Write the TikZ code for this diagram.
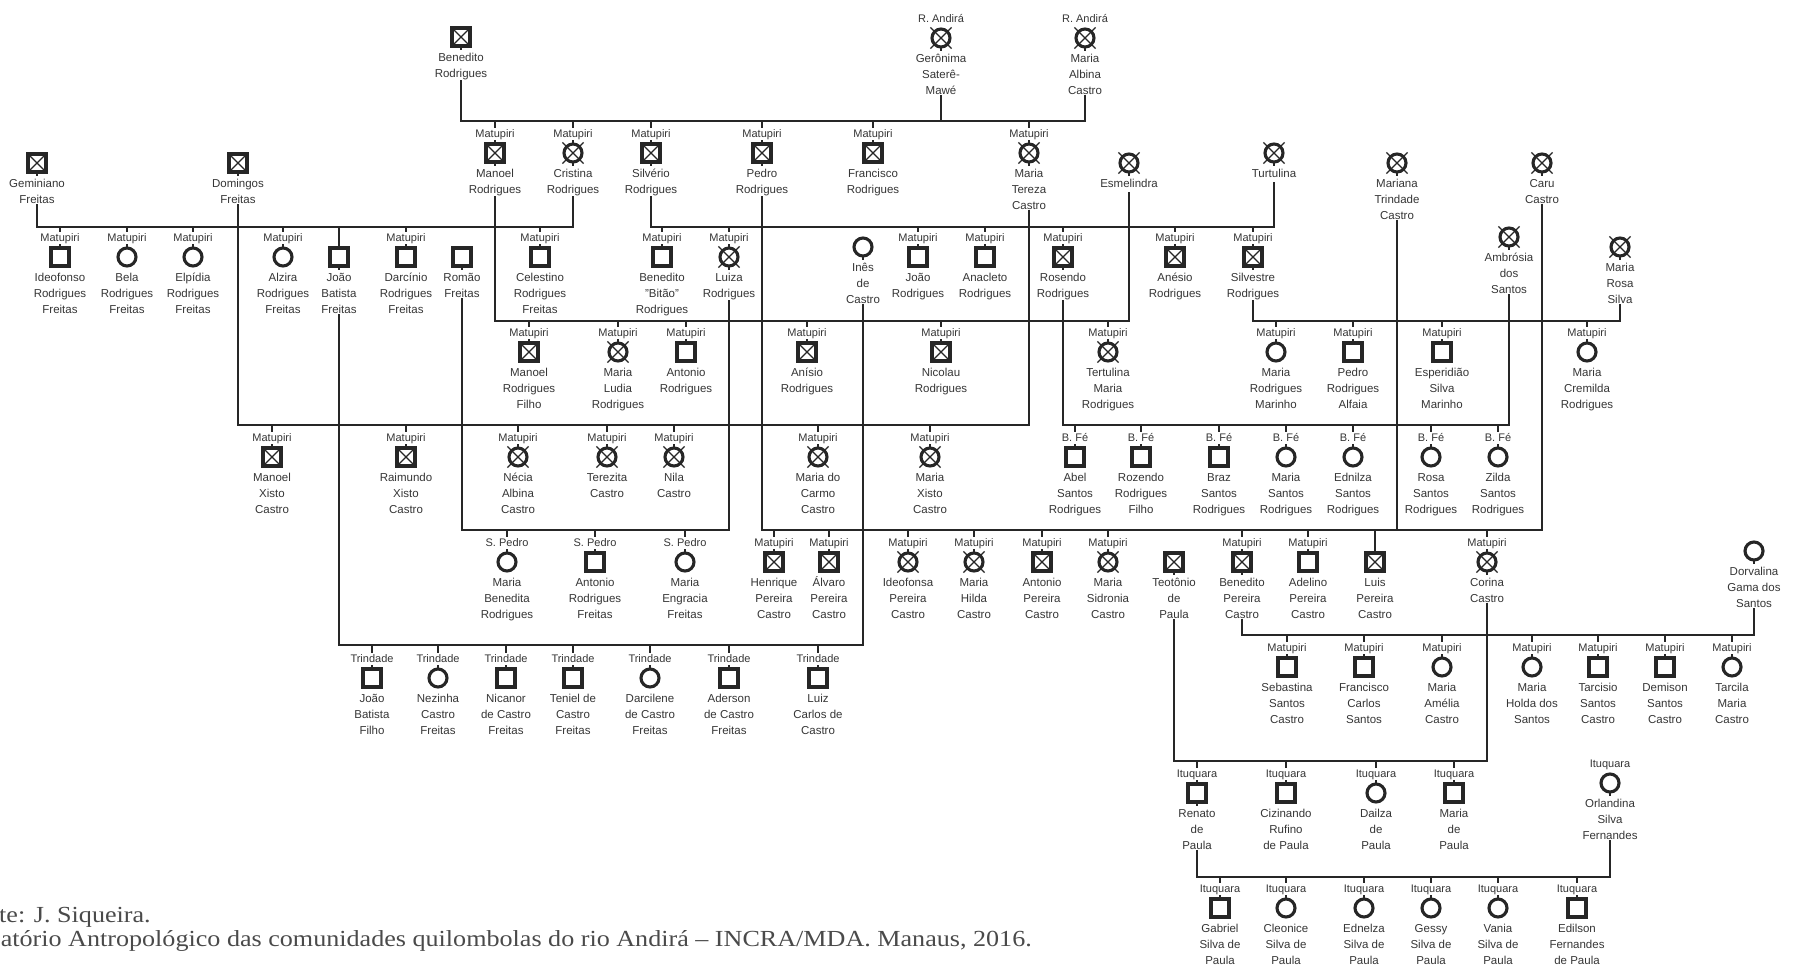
\documentclass[tikz,border=0pt]{standalone}
\usepackage{fontspec}
\setmainfont{Liberation Sans}
\newfontfamily\footfont[FakeStretch=1.135]{Liberation Serif}
\usetikzlibrary{shapes.misc}
\definecolor{ink}{HTML}{262626}
\definecolor{txt}{HTML}{363636}
\definecolor{ftc}{HTML}{4A4A4A}
\pgfdeclarelayer{bg}
\pgfsetlayers{bg,main}
\tikzset{
  sym/.style={draw=ink, fill=white, line width=3.1pt, minimum size=18pt, inner sep=0pt, outer sep=0pt},
  sq/.style={sym, rectangle},
  ci/.style={sym, circle},
  sqx/.style={sq, path picture={\draw[ink, line width=1.2pt] (path picture bounding box.south west) -- (path picture bounding box.north east) (path picture bounding box.north west) -- (path picture bounding box.south east);}},
  xo/.style={cross out, draw=ink, line width=1.2pt, minimum size=20pt, inner sep=0pt},
  cix/.style={ci, append after command={node[xo] at (\tikzlastnode.center) {}}},
  nm/.style={font=\fontsize{11.5}{16}\selectfont, text=txt, align=center, inner sep=0pt, anchor=north, fill=white},
  lb/.style={font=\fontsize{11}{13}\selectfont, text=txt, inner xsep=1pt, inner ysep=1pt, text height=8.5pt, text depth=1.5pt, anchor=base, fill=white},
  rel/.style={draw=ink, line width=2.8pt},
  ch/.style={draw=ink, line width=2.2pt},
  foot/.style={font=\footfont\fontsize{23}{24}\selectfont, text=ftc, inner sep=0pt},
}
\newcommand\pers[6]{%
  \node[#4] (#1) at (#2,#3) {};
  \node[nm] (#1t) at (#2,#3+13) {\strut #6};
  \if\relax\detokenize{#5}\relax\else\node[lb] (#1l) at (#2,#3-16) {#5};\fi
}
\begin{document}
\begin{tikzpicture}[x=1pt,y=-1pt]
\useasboundingbox (0,0) rectangle (1798,969);
% row 0
\pers{benR}{461}{37}{sqx}{}{Benedito\\Rodrigues}
\pers{geron}{941}{38}{cix}{R. Andirá}{Gerônima\\Saterê-\\Mawé}
\pers{malb}{1085}{38}{cix}{R. Andirá}{Maria\\Albina\\Castro}
% row 1
\pers{manR}{495}{153}{sqx}{Matupiri}{Manoel\\Rodrigues}
\pers{criR}{573}{153}{cix}{Matupiri}{Cristina\\Rodrigues}
\pers{silR}{651}{153}{sqx}{Matupiri}{Silvério\\Rodrigues}
\pers{pedR}{762}{153}{sqx}{Matupiri}{Pedro\\Rodrigues}
\pers{fraR}{873}{153}{sqx}{Matupiri}{Francisco\\Rodrigues}
\pers{mtc}{1029}{153}{cix}{Matupiri}{Maria\\Tereza\\Castro}
\pers{turt}{1274}{153}{cix}{}{Turtulina}
\pers{gemF}{37}{163}{sqx}{}{Geminiano\\Freitas}
\pers{domF}{238}{163}{sqx}{}{Domingos\\Freitas}
\pers{esme}{1129}{163}{cix}{}{Esmelindra}
\pers{mari}{1397}{163}{cix}{}{Mariana\\Trindade\\Castro}
\pers{caru}{1542}{163}{cix}{}{Caru\\Castro}
\pers{ambr}{1509}{237}{cix}{}{Ambrósia\\dos\\Santos}
\pers{mrs}{1620}{247}{cix}{}{Maria\\Rosa\\Silva}
% row 2
\pers{ideo}{60}{257}{sq}{Matupiri}{Ideofonso\\Rodrigues\\Freitas}
\pers{bela}{127}{257}{ci}{Matupiri}{Bela\\Rodrigues\\Freitas}
\pers{elp}{193}{257}{ci}{Matupiri}{Elpídia\\Rodrigues\\Freitas}
\pers{alz}{283}{257}{ci}{Matupiri}{Alzira\\Rodrigues\\Freitas}
\pers{jbf}{339}{257}{sq}{}{João\\Batista\\Freitas}
\pers{darc}{406}{257}{sq}{Matupiri}{Darcínio\\Rodrigues\\Freitas}
\pers{romao}{462}{257}{sq}{}{Romão\\Freitas}
\pers{cel}{540}{257}{sq}{Matupiri}{Celestino\\Rodrigues\\Freitas}
\pers{bitao}{662}{257}{sq}{Matupiri}{Benedito\\"Bitão"\\Rodrigues}
\pers{luiza}{729}{257}{cix}{Matupiri}{Luiza\\Rodrigues}
\pers{ines}{863}{247}{ci}{}{Inês\\de\\Castro}
\pers{joaoR}{918}{257}{sq}{Matupiri}{João\\Rodrigues}
\pers{anac}{985}{257}{sq}{Matupiri}{Anacleto\\Rodrigues}
\pers{rosen}{1063}{257}{sqx}{Matupiri}{Rosendo\\Rodrigues}
\pers{anes}{1175}{257}{sqx}{Matupiri}{Anésio\\Rodrigues}
\pers{silv}{1253}{257}{sqx}{Matupiri}{Silvestre\\Rodrigues}
% row 3
\pers{mrf}{529}{352}{sqx}{Matupiri}{Manoel\\Rodrigues\\Filho}
\pers{mlud}{618}{352}{cix}{Matupiri}{Maria\\Ludia\\Rodrigues}
\pers{antR}{686}{352}{sq}{Matupiri}{Antonio\\Rodrigues}
\pers{anis}{807}{352}{sqx}{Matupiri}{Anísio\\Rodrigues}
\pers{nic}{941}{352}{sqx}{Matupiri}{Nicolau\\Rodrigues}
\pers{tert}{1108}{352}{cix}{Matupiri}{Tertulina\\Maria\\Rodrigues}
\pers{mrm}{1276}{352}{ci}{Matupiri}{Maria\\Rodrigues\\Marinho}
\pers{pra}{1353}{352}{sq}{Matupiri}{Pedro\\Rodrigues\\Alfaia}
\pers{esp}{1442}{352}{sq}{Matupiri}{Esperidião\\Silva\\Marinho}
\pers{mcr}{1587}{352}{ci}{Matupiri}{Maria\\Cremilda\\Rodrigues}
% row 4
\pers{mxc}{272}{457}{sqx}{Matupiri}{Manoel\\Xisto\\Castro}
\pers{rxc}{406}{457}{sqx}{Matupiri}{Raimundo\\Xisto\\Castro}
\pers{nec}{518}{457}{cix}{Matupiri}{Nécia\\Albina\\Castro}
\pers{terz}{607}{457}{cix}{Matupiri}{Terezita\\Castro}
\pers{nila}{674}{457}{cix}{Matupiri}{Nila\\Castro}
\pers{mdc}{818}{457}{cix}{Matupiri}{Maria do\\Carmo\\Castro}
\pers{mxic}{930}{457}{cix}{Matupiri}{Maria\\Xisto\\Castro}
\pers{abel}{1075}{457}{sq}{B. Fé}{Abel\\Santos\\Rodrigues}
\pers{rozf}{1141}{457}{sq}{B. Fé}{Rozendo\\Rodrigues\\Filho}
\pers{braz}{1219}{457}{sq}{B. Fé}{Braz\\Santos\\Rodrigues}
\pers{msr}{1286}{457}{ci}{B. Fé}{Maria\\Santos\\Rodrigues}
\pers{edn}{1353}{457}{ci}{B. Fé}{Ednilza\\Santos\\Rodrigues}
\pers{rosa}{1431}{457}{ci}{B. Fé}{Rosa\\Santos\\Rodrigues}
\pers{zil}{1498}{457}{ci}{B. Fé}{Zilda\\Santos\\Rodrigues}
% row 5
\pers{mbr}{507}{562}{ci}{S. Pedro}{Maria\\Benedita\\Rodrigues}
\pers{arf}{595}{562}{sq}{S. Pedro}{Antonio\\Rodrigues\\Freitas}
\pers{mef}{685}{562}{ci}{S. Pedro}{Maria\\Engracia\\Freitas}
\pers{hpc}{774}{562}{sqx}{Matupiri}{Henrique\\Pereira\\Castro}
\pers{apc}{829}{562}{sqx}{Matupiri}{Álvaro\\Pereira\\Castro}
\pers{ipc}{908}{562}{cix}{Matupiri}{Ideofonsa\\Pereira\\Castro}
\pers{mhc}{974}{562}{cix}{Matupiri}{Maria\\Hilda\\Castro}
\pers{anpc}{1042}{562}{sqx}{Matupiri}{Antonio\\Pereira\\Castro}
\pers{msc}{1108}{562}{cix}{Matupiri}{Maria\\Sidronia\\Castro}
\pers{teo}{1174}{562}{sqx}{}{Teotônio\\de\\Paula}
\pers{bpc}{1242}{562}{sqx}{Matupiri}{Benedito\\Pereira\\Castro}
\pers{adpc}{1308}{562}{sq}{Matupiri}{Adelino\\Pereira\\Castro}
\pers{lpc}{1375}{562}{sqx}{}{Luis\\Pereira\\Castro}
\pers{cor}{1487}{562}{cix}{Matupiri}{Corina\\Castro}
\pers{dorv}{1754}{551}{ci}{}{Dorvalina\\Gama dos\\Santos}
% row 6
\pers{ssc}{1287}{667}{sq}{Matupiri}{Sebastina\\Santos\\Castro}
\pers{fcs}{1364}{667}{sq}{Matupiri}{Francisco\\Carlos\\Santos}
\pers{mac}{1442}{667}{ci}{Matupiri}{Maria\\Amélia\\Castro}
\pers{mhs}{1532}{667}{ci}{Matupiri}{Maria\\Holda dos\\Santos}
\pers{tsc}{1598}{667}{sq}{Matupiri}{Tarcisio\\Santos\\Castro}
\pers{dsc}{1665}{667}{sq}{Matupiri}{Demison\\Santos\\Castro}
\pers{tmc}{1732}{667}{ci}{Matupiri}{Tarcila\\Maria\\Castro}
% row 7
\pers{jbfi}{372}{678}{sq}{Trindade}{João\\Batista\\Filho}
\pers{nez}{438}{678}{ci}{Trindade}{Nezinha\\Castro\\Freitas}
\pers{nican}{506}{678}{sq}{Trindade}{Nicanor\\de Castro\\Freitas}
\pers{teniel}{573}{678}{sq}{Trindade}{Teniel de\\Castro\\Freitas}
\pers{darcl}{650}{678}{ci}{Trindade}{Darcilene\\de Castro\\Freitas}
\pers{ader}{729}{678}{sq}{Trindade}{Aderson\\de Castro\\Freitas}
\pers{lcc}{818}{678}{sq}{Trindade}{Luiz\\Carlos de\\Castro}
% row 8
\pers{ren}{1197}{793}{sq}{Ituquara}{Renato\\de\\Paula}
\pers{ciz}{1286}{793}{sq}{Ituquara}{Cizinando\\Rufino\\de Paula}
\pers{dail}{1376}{793}{ci}{Ituquara}{Dailza\\de\\Paula}
\pers{mdp}{1454}{793}{sq}{Ituquara}{Maria\\de\\Paula}
\pers{orl}{1610}{783}{ci}{Ituquara}{Orlandina\\Silva\\Fernandes}
% row 9
\pers{gab}{1220}{908}{sq}{Ituquara}{Gabriel\\Silva de\\Paula}
\pers{cleo}{1286}{908}{ci}{Ituquara}{Cleonice\\Silva de\\Paula}
\pers{ednz}{1364}{908}{ci}{Ituquara}{Ednelza\\Silva de\\Paula}
\pers{gess}{1431}{908}{ci}{Ituquara}{Gessy\\Silva de\\Paula}
\pers{vania}{1498}{908}{ci}{Ituquara}{Vania\\Silva de\\Paula}
\pers{edil}{1577}{908}{sq}{Ituquara}{Edilson\\Fernandes\\de Paula}
% footer
\node[foot, anchor=base west] (f1) at (-1,922) {te: J. Siqueira.};
\node[foot, anchor=base east] (f2) at (1032,946) {atório Antropológico das comunidades quilombolas do rio Andirá – INCRA/MDA. Manaus, 2016.};
% connectors
\begin{pgfonlayer}{bg}
\fill[white] (0,0) rectangle (1798,969);
\coordinate (Ltop) at (941,121);
\coordinate (L227a) at (37,227);
\coordinate (L227b) at (651,227);
\coordinate (L321a) at (495,321);
\coordinate (L321b) at (1253,321);
\coordinate (L425a) at (238,425);
\coordinate (L425b) at (1063,425);
\coordinate (L530a) at (462,530);
\coordinate (L530b) at (762,530);
\coordinate (L645) at (339,645);
\coordinate (L635) at (1242,635);
\coordinate (L761) at (1174,761);
\coordinate (L877) at (1197,877);
\draw[rel] (benR.south) |- (Ltop) -| (malb.south);
\draw[rel] (geron.south) -- (Ltop);
\foreach \c in {manR,criR,silR,pedR,fraR,mtc} \draw[ch] (Ltop -| \c) -- (\c.north);
\draw[rel] (gemF.south) |- (L227a) -| (criR.south);
\foreach \c in {ideo,bela,elp,alz,jbf,darc,cel} \draw[ch] (L227a -| \c) -- (\c.north);
\draw[rel] (silR.south) |- (L227b) -| (turt.south);
\foreach \c in {bitao,luiza,joaoR,anac,rosen,anes,silv} \draw[ch] (L227b -| \c) -- (\c.north);
\draw[rel] (manR.south) |- (L321a) -| (esme.south);
\foreach \c in {mrf,mlud,antR,anis,nic,tert} \draw[ch] (L321a -| \c) -- (\c.north);
\draw[rel] (silv.south) |- (L321b) -| (mrs.south);
\foreach \c in {mrm,pra,esp,mcr} \draw[ch] (L321b -| \c) -- (\c.north);
\draw[rel] (domF.south) |- (L425a) -| (mtc.south);
\foreach \c in {mxc,rxc,nec,terz,nila,mdc,mxic} \draw[ch] (L425a -| \c) -- (\c.north);
\draw[rel] (rosen.south) |- (L425b) -| (ambr.south);
\foreach \c in {abel,rozf,braz,msr,edn,rosa,zil} \draw[ch] (L425b -| \c) -- (\c.north);
\draw[rel] (romao.south) |- (L530a) -| (luiza.south);
\foreach \c in {mbr,arf,mef} \draw[ch] (L530a -| \c) -- (\c.north);
\draw[rel] (pedR.south) |- (L530b) -| (caru.south);
\draw[rel] (mari.south) -- (mari.south |- L530b);
\foreach \c in {hpc,apc,ipc,mhc,anpc,msc,bpc,adpc,lpc,cor} \draw[ch] (L530b -| \c) -- (\c.north);
\draw[rel] (jbf.south) |- (L645) -| (ines.south);
\foreach \c in {jbfi,nez,nican,teniel,darcl,ader,lcc} \draw[ch] (L645 -| \c) -- (\c.north);
\draw[rel] (bpc.south) |- (L635) -| (dorv.south);
\foreach \c in {ssc,fcs,mac,mhs,tsc,dsc,tmc} \draw[ch] (L635 -| \c) -- (\c.north);
\draw[rel] (teo.south) |- (L761) -| (cor.south);
\foreach \c in {ren,ciz,dail,mdp} \draw[ch] (L761 -| \c) -- (\c.north);
\draw[rel] (ren.south) |- (L877) -| (orl.south);
\foreach \c in {gab,cleo,ednz,gess,vania,edil} \draw[ch] (L877 -| \c) -- (\c.north);
\end{pgfonlayer}
\end{tikzpicture}
\end{document}
